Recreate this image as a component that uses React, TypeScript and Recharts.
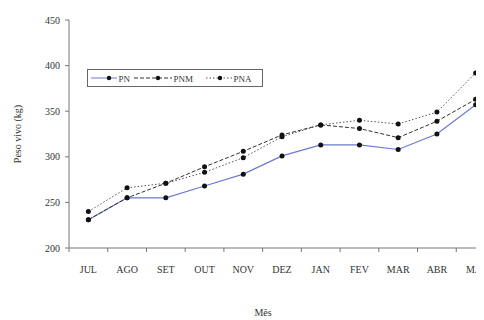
import { LineChart, XAxis, YAxis, Line, Legend } from "recharts";

const meses = ["JUL", "AGO", "SET", "OUT", "NOV", "DEZ", "JAN", "FEV", "MAR", "ABR", "MAI"];
const pn = [231, 255, 255, 268, 281, 301, 313, 313, 308, 325, 357];
const pnm = [231, 255, 271, 289, 306, 324, 335, 331, 321, 339, 363];
const pna = [240, 266, 271, 283, 299, 322, 335, 340, 336, 349, 392];
const yTicks = [200, 250, 300, 350, 400, 450];
const ordem = ["PN", "PNM", "PNA"];

const dados = meses.map((m, i) => ({ mes: m, PN: pn[i], PNM: pnm[i], PNA: pna[i] }));

const fonte = "'Liberation Serif', 'DejaVu Serif', serif";
const banda = 426 / meses.length;

function TickMes(props: any) {
  const { x, y, payload } = props;
  return (
    <g>
      <line x1={x - banda / 2} y1={y - 4} x2={x - banda / 2} y2={y} stroke="#777" />
      <text x={x} y={y + 21} textAnchor="middle" fontSize={10} fill="#333" fontFamily={fonte}>
        {payload.value}
      </text>
    </g>
  );
}

// inicio, comprimento da linha, posicao do ponto
const legLayout = [
  [3, 26, 18],
  [46, 38, 24],
  [118, 26, 14],
];

function Legenda(props: any) {
  const itens = [...props.payload].sort((a: any, b: any) => ordem.indexOf(a.value) - ordem.indexOf(b.value));
  return (
    <div style={{ border: "1.5px solid #666", width: 174, height: 16, background: "#fff" }}>
      <svg width={174} height={16}>
        {itens.map((p: any, i: number) => {
          const [x0, len, mk] = legLayout[i];
          return (
            <g key={p.value}>
              <line x1={x0} y1={8} x2={x0 + len} y2={8} stroke={p.color} strokeDasharray={p.payload.strokeDasharray} />
              <circle cx={x0 + mk} cy={8} r={2.2} fill="#111" />
              <text x={x0 + len + 1.5} y={11.5} fontSize={9} fill="#333" fontFamily={fonte}>
                {p.value}
              </text>
            </g>
          );
        })}
      </svg>
    </div>
  );
}

export default function App() {
  const ponto = { r: 2.5, fill: "#111", stroke: "none" };
  return (
    <div style={{ width: 476, height: 312, overflow: "hidden" }}>
      <LineChart width={487} height={312} data={dados} margin={{ top: 12, right: 0, left: 0, bottom: 0 }} style={{ fontFamily: fonte }}>
        <XAxis
          dataKey="mes"
          height={53}
          padding={{ left: banda / 2, right: banda / 2 }}
          tickLine={false}
          tickSize={4}
          tickMargin={0}
          stroke="#777"
          tick={<TickMes />}
          interval={0}
          label={{ value: "Mês", position: "insideBottom", offset: 2, dx: -19, dy: 17, fontSize: 10, fill: "#333", fontFamily: fonte }}
        />
        <YAxis
          domain={[200, 450]}
          ticks={yTicks}
          width={61}
          tickSize={4}
          tickMargin={5}
          stroke="#777"
          tick={{ fontSize: 10, fill: "#333", fontFamily: fonte }}
          label={{ value: "Peso vivo (kg)", angle: -90, position: "center", dx: -21, fontSize: 10, fill: "#333", fontFamily: fonte }}
        />
        <Legend
          content={<Legenda />}
          wrapperStyle={{ position: "absolute", left: 79, top: 61, width: 177, height: 19 }}
        />
        <Line dataKey="PN" stroke="#6a7bd0" strokeWidth={1.2} dot={ponto} activeDot={false} isAnimationActive={false} />
        <Line dataKey="PNM" stroke="#333" strokeWidth={1} strokeDasharray="4 2" dot={ponto} activeDot={false} isAnimationActive={false} />
        <Line dataKey="PNA" stroke="#555" strokeWidth={1} strokeDasharray="1.5 2" dot={ponto} activeDot={false} isAnimationActive={false} />
      </LineChart>
    </div>
  );
}
